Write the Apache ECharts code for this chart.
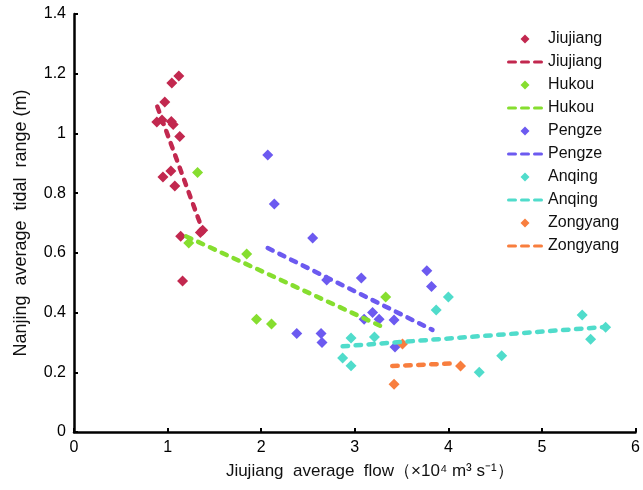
<!DOCTYPE html>
<html>
<head>
<meta charset="utf-8">
<script src="https://cdn.jsdelivr.net/npm/echarts@6/dist/echarts.min.js"></script>
<style>
  html, body { margin: 0; padding: 0; background: #fff; }
  #chart { width: 643px; height: 490px; }
</style>
</head>
<body>
<div id="chart"></div>
<script>
// Station observations: [Jiujiang average flow (1e4 m3/s), Nanjing average tidal range (m)]
const jiujiangPts = [
  [1.12, 1.192], [1.045, 1.169], [0.97, 1.105], [0.885, 1.038], [0.94, 1.045],
  [1.04, 1.04], [1.06, 1.03], [1.13, 0.99], [0.95, 0.854], [1.035, 0.874],
  [1.077, 0.824], [1.14, 0.656], [1.16, 0.506], [1.375, 0.676], [1.35, 0.668]
];
const hukouPts = [
  [1.32, 0.869], [1.226, 0.633], [1.845, 0.596], [1.95, 0.378], [2.11, 0.362], [3.33, 0.452]
];
const pengzePts = [
  [2.07, 0.928], [2.14, 0.764], [2.55, 0.65], [2.70, 0.509], [3.07, 0.516],
  [3.19, 0.40], [3.10, 0.378], [3.26, 0.378], [3.42, 0.375], [2.38, 0.33],
  [2.64, 0.33], [2.65, 0.30], [3.77, 0.54], [3.82, 0.487], [3.43, 0.285]
];
const anqingPts = [
  [2.96, 0.315], [3.21, 0.318], [2.87, 0.248], [2.96, 0.222], [3.87, 0.409],
  [4.0, 0.452], [4.33, 0.20], [4.57, 0.255], [5.43, 0.392], [5.68, 0.351], [5.52, 0.311]
];
const zongyangPts = [
  [3.51, 0.295], [4.13, 0.221], [3.42, 0.16]
];

// Fitted trend lines (end points)
const jiujiangFit = [[0.89, 1.09], [1.375, 0.675]];
const hukouFit = [[1.20, 0.655], [3.27, 0.356]];
const pengzeFit = [[2.07, 0.616], [3.83, 0.342]];
const anqingFit = [[2.87, 0.287], [5.68, 0.352]];
const zongyangFit = [[3.40, 0.221], [4.08, 0.230]];

const stations = ['Jiujiang', 'Hukou', 'Pengze', 'Anqing', 'Zongyang'];
const colors = ['#C2284F', '#86DE2F', '#6C5AF0', '#50DCCB', '#F87E3E'];
const pointSets = [jiujiangPts, hukouPts, pengzePts, anqingPts, zongyangPts];
const fitSets = [jiujiangFit, hukouFit, pengzeFit, anqingFit, zongyangFit];

const xTicks = [0, 1, 2, 3, 4, 5, 6];
const yTicks = [0, 0.2, 0.4, 0.6, 0.8, 1.0, 1.2, 1.4];

// Legend glyphs: a small diamond for the points, three dashes for the fits
const DIAMOND_ICON = 'path://M0,-1L1,0L0,1L-1,0Z';
const DASH_ICON = 'path://M1.5,0h7a1.5,1.5 0 0 1 0,3h-7a1.5,1.5 0 0 1 0,-3z' +
  'M14.5,0h7a1.5,1.5 0 0 1 0,3h-7a1.5,1.5 0 0 1 0,-3z' +
  'M27.5,0h7a1.5,1.5 0 0 1 0,3h-7a1.5,1.5 0 0 1 0,-3z';

const FIT = ' fit';
const series = [];
const legendData = [];
stations.forEach((name, i) => {
  series.push({
    name: name,
    type: 'scatter',
    symbol: 'diamond',
    symbolSize: 11,
    itemStyle: { color: colors[i], opacity: 1 },
    data: pointSets[i],
    z: 3
  });
  series.push({
    name: name + FIT,
    type: 'line',
    symbol: 'none',
    lineStyle: { color: colors[i], width: 4.5, type: [5.5, 7.5], cap: 'round' },
    itemStyle: { color: colors[i] },
    data: fitSets[i],
    z: 4
  });
  legendData.push({ name: name, icon: DIAMOND_ICON });
  legendData.push({ name: name + FIT, icon: DASH_ICON });
});

const chart = echarts.init(document.getElementById('chart'), null, { renderer: 'canvas' });
const FONT = 'Liberation Sans, Arial, sans-serif';
const axisText = { color: '#000', fontSize: 16, fontFamily: FONT };

chart.setOption({
  animation: false,
  backgroundColor: '#fff',
  grid: { left: 74, right: 6, top: 14, bottom: 58 },
  legend: {
    orient: 'vertical',
    left: 502,
    top: 26,
    itemWidth: 36,
    itemHeight: 9,
    itemGap: 7,
    data: legendData,
    formatter: n => n.replace(FIT, ''),
    textStyle: { color: '#111', fontSize: 16, lineHeight: 16, fontFamily: FONT }
  },
  xAxis: {
    type: 'value',
    min: xTicks[0],
    max: xTicks[xTicks.length - 1],
    interval: 1,
    name: 'Jiujiang  average  flow（×10⁴ m³ s⁻¹）',
    nameLocation: 'middle',
    nameGap: 31,
    nameTextStyle: { color: '#111', fontSize: 17, fontFamily: FONT, padding: [0, 0, 0, 30] },
    axisLine: { lineStyle: { color: '#000', width: 2.5 } },
    axisTick: { inside: true, length: 4, lineStyle: { color: '#000', width: 2 } },
    axisLabel: Object.assign({ margin: 8 }, axisText),
    splitLine: { show: false }
  },
  yAxis: {
    type: 'value',
    min: yTicks[0],
    max: yTicks[yTicks.length - 1],
    interval: 0.2,
    name: 'Nanjing  average  tidal  range (m)',
    nameLocation: 'middle',
    nameGap: 44,
    nameTextStyle: { color: '#111', fontSize: 18, fontFamily: FONT },
    axisLine: { lineStyle: { color: '#000', width: 2.5 } },
    axisTick: { inside: true, length: 4, lineStyle: { color: '#000', width: 2 } },
    axisLabel: Object.assign({ margin: 8 }, axisText),
    splitLine: { show: false }
  },
  series: series
});
</script>
</body>
</html>
